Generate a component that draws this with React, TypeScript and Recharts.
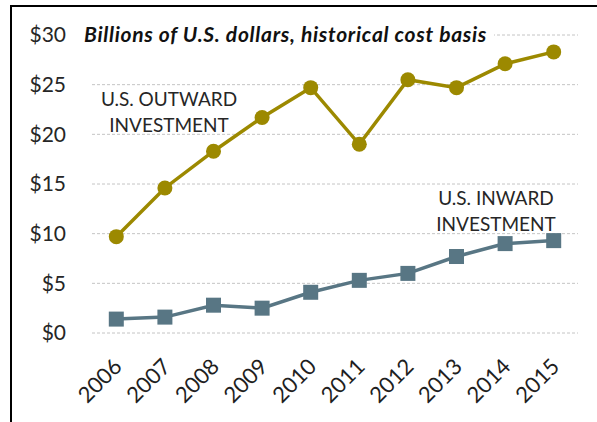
import { LineChart, Line, XAxis, YAxis, CartesianGrid } from "recharts";

// Values (billions of U.S. dollars)
const years = [2006, 2007, 2008, 2009, 2010, 2011, 2012, 2013, 2014, 2015];
const outward = [9.7, 14.6, 18.3, 21.7, 24.7, 19.0, 25.5, 24.7, 27.1, 28.3];
const inward = [1.4, 1.6, 2.8, 2.5, 4.1, 5.3, 6.0, 7.7, 9.0, 9.3];
const yTicks = [0, 5, 10, 15, 20, 25, 30];

const OLIVE = "#9c8900";
const SLATE = "#587684";
const FONT = "Lato, 'Open Sans', sans-serif";

const data = years.map((year, i) => ({ year, outward: outward[i], inward: inward[i] }));
// tick marks sit between the years, like a category axis
const boundaryTicks = [...years.map((y) => y - 0.5), years[years.length - 1] + 0.5];
const xDomain = [years[0] - 0.5, years[years.length - 1] + 0.5];

const SquareDot = (props: any) => {
  const { cx, cy, index } = props;
  if (cx == null || cy == null) return null;
  return <rect key={`sq-${index}`} x={cx - 7.5} y={cy - 7.5} width={15} height={15} fill={SLATE} />;
};

export default function App() {
  return (
    <div
      style={{
        position: "absolute",
        left: 0,
        top: 0,
        width: 597,
        height: 422,
        background: "#fff",
        fontFamily: FONT,
      }}
    >
      {/* frame, only top and left edges show */}
      <div
        style={{
          position: "absolute",
          left: 10,
          top: 5,
          width: 587,
          height: 417,
          borderTop: "2px solid #000",
          borderLeft: "2px solid #000",
        }}
      />
      <LineChart width={597} height={422} data={data} margin={{ top: 35, right: 19, left: 32, bottom: 29 }}>
        <CartesianGrid vertical={false} stroke="#c4c4c4" strokeDasharray="3 2" />
        <XAxis
          xAxisId="ticks"
          dataKey="year"
          type="number"
          domain={xDomain}
          ticks={boundaryTicks}
          tick={false}
          tickSize={8}
          height={0}
          stroke="#a6a6a6"
        />
        <XAxis
          xAxisId="labels"
          dataKey="year"
          type="number"
          domain={xDomain}
          ticks={years}
          axisLine={false}
          tickLine={false}
          tickSize={0}
          tickMargin={24}
          angle={-45}
          textAnchor="end"
          height={60}
          interval={0}
          tick={{ fontSize: 22, fill: "#1f1f1f", fontFamily: FONT, dx: -4 }}
        />
        <YAxis
          domain={[0, 30]}
          ticks={yTicks}
          width={60}
          axisLine={false}
          tickLine={false}
          tickMargin={20}
          tickFormatter={(v) => `$${v}`}
          tick={{ fontSize: 21, fill: "#262626", fontFamily: FONT }}
        />
        <Line
          xAxisId="labels"
          dataKey="outward"
          stroke={OLIVE}
          strokeWidth={3.5}
          dot={{ r: 7.5, fill: OLIVE, stroke: OLIVE, strokeWidth: 0 }}
          isAnimationActive={false}
        />
        <Line
          xAxisId="labels"
          dataKey="inward"
          stroke={SLATE}
          strokeWidth={3.5}
          dot={SquareDot}
          isAnimationActive={false}
        />
      </LineChart>

      <div
        style={{
          position: "absolute",
          left: 82,
          top: 23,
          padding: "0 7px 0 2px",
          background: "#fff",
          fontSize: 21,
          lineHeight: "22px",
          fontWeight: 700,
          fontStyle: "italic",
          letterSpacing: 0.7,
          color: "#111",
          whiteSpace: "nowrap",
        }}
      >
        Billions of U.S. dollars, historical cost basis
      </div>

      <div
        style={{
          position: "absolute",
          left: 89,
          top: 86,
          width: 160,
          textAlign: "center",
          fontSize: 19,
          lineHeight: "26px",
          color: "#262626",
        }}
      >
        U.S. OUTWARD
        <br />
        INVESTMENT
      </div>
      <div
        style={{
          position: "absolute",
          left: 416,
          top: 185,
          width: 160,
          textAlign: "center",
          fontSize: 19,
          lineHeight: "26px",
          color: "#262626",
        }}
      >
        U.S. INWARD
        <br />
        INVESTMENT
      </div>
    </div>
  );
}
